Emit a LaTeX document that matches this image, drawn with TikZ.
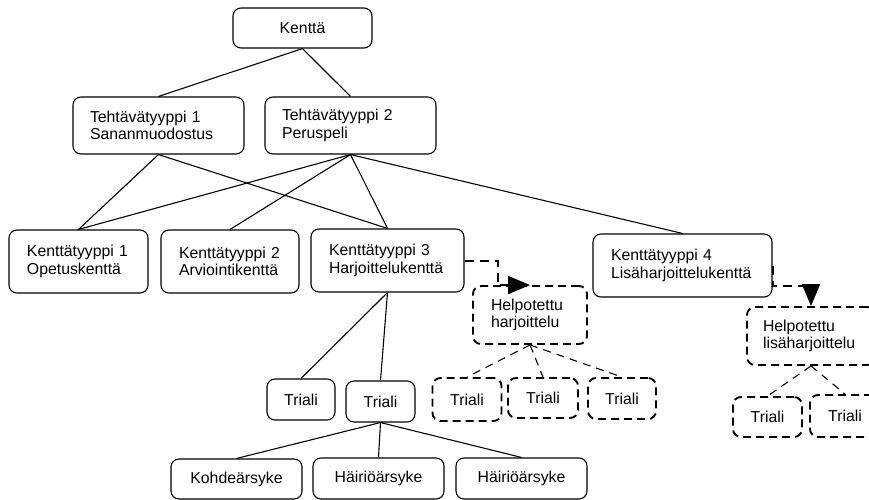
\documentclass[tikz,border=0pt]{standalone}
\usepackage{fontspec}
\setmainfont{Liberation Sans}
\usetikzlibrary{arrows.meta}
\begin{document}
\begin{tikzpicture}[x=1pt,y=-1pt,
  box/.style={draw, rounded corners=8pt, line width=1.1pt, align=left,
    font=\fontsize{15.8}{17.5}\selectfont, inner sep=0pt},
  dbox/.style={box, dash pattern=on 8pt off 5pt, line width=1.9pt},
  link/.style={line width=1.1pt},
  dlink/.style={line width=1.1pt, dash pattern=on 8pt off 6pt},
  darrow/.style={line width=2pt, dash pattern=on 9pt off 6pt,
    -{Triangle[length=22pt,width=18pt]}}]
\useasboundingbox (0,0) rectangle (869,500);
\clip (0,0) rectangle (869,500);

\node[box, minimum width=139pt, minimum height=40pt] (K) at (302.5,28) {Kenttä};
\node[box, minimum width=171pt, minimum height=57pt, text width=137pt] (T1) at (158.5,125.5) {Tehtävätyyppi 1\\Sananmuodostus};
\node[box, minimum width=171pt, minimum height=57pt, text width=137pt] (T2) at (350.5,125.5) {Tehtävätyyppi 2\\Peruspeli};

\node[box, minimum width=139pt, minimum height=63pt, text width=103pt] (K1) at (78.5,261.5) {Kenttätyyppi 1\\Opetuskenttä};
\node[box, minimum width=138pt, minimum height=63pt, text width=102pt] (K2) at (230,261.5) {Kenttätyyppi 2\\Arviointikenttä};
\node[box, minimum width=153pt, minimum height=63pt, text width=117pt] (K3) at (387.5,260.5) {Kenttätyyppi 3\\Harjoittelukenttä};
\node[box, minimum width=179pt, minimum height=63pt, text width=143pt] (K4) at (682.5,265.5) {Kenttätyyppi 4\\Lisäharjoittelukenttä};

\node[dbox, minimum width=114pt, minimum height=58pt, text width=78pt] (HH) at (530,315) {Helpotettu\\harjoittelu};
\node[dbox, minimum width=128pt, minimum height=58pt, text width=96pt] (HL) at (811,336) {Helpotettu\\lisäharjoittelu};

\node[box, minimum width=68pt, minimum height=41pt] (TA) at (301,399.5) {Triali};
\node[box, minimum width=69pt, minimum height=41pt] (TB) at (380.5,401.5) {Triali};

\node[box, minimum width=131pt, minimum height=40pt] (S1) at (236.5,479) {Kohdeärsyke};
\node[box, minimum width=131pt, minimum height=41pt] (S2) at (378.5,478.5) {Häiriöärsyke};
\node[box, minimum width=131pt, minimum height=41pt] (S3) at (521.5,478.5) {Häiriöärsyke};

\node[dbox, minimum width=69pt, minimum height=43pt] (D1) at (467,399.5) {Triali};
\node[dbox, minimum width=70pt, minimum height=40pt] (D2) at (543,398) {Triali};
\node[dbox, minimum width=68pt, minimum height=41pt] (D3) at (622,398.5) {Triali};
\node[dbox, minimum width=69pt, minimum height=40pt] (L1) at (767.5,417) {Triali};
\node[dbox, minimum width=70pt, minimum height=42pt] (L2) at (845,416) {Triali};

\draw[link] (K.south) -- (T1.north);
\draw[link] (K.south) -- (T2.north);
\draw[link] (T1.south) -- (K1.north);
\draw[link] (T1.south) -- (K3.north);
\draw[link] (T2.south) -- (K1.north);
\draw[link] (T2.south) -- (K2.north);
\draw[link] (T2.south) -- (K3.north);
\draw[link] (T2.south) -- (K4.north);
\draw[link] (K3.south) -- (TA.north);
\draw[link] (K3.south) -- (TB.north);
\draw[link] (TB.south) -- (S1.north);
\draw[link] (TB.south) -- (S2.north);
\draw[link] (TB.south) -- (S3.north);

\draw[dlink] (HH.south) -- (D1.north);
\draw[dlink] (HH.south) -- (D2.north);
\draw[dlink] (HH.south) -- (D3.north);
\draw[dlink] (HL.south) -- (L1.north);
\draw[dlink] (HL.south) -- (L2.north);

\draw[darrow] (K3.east) -- ++(33,0) |- (HH.north);
\draw[darrow] (K4.east) -- ++(0,20) -| (HL.north);
\end{tikzpicture}
\end{document}
